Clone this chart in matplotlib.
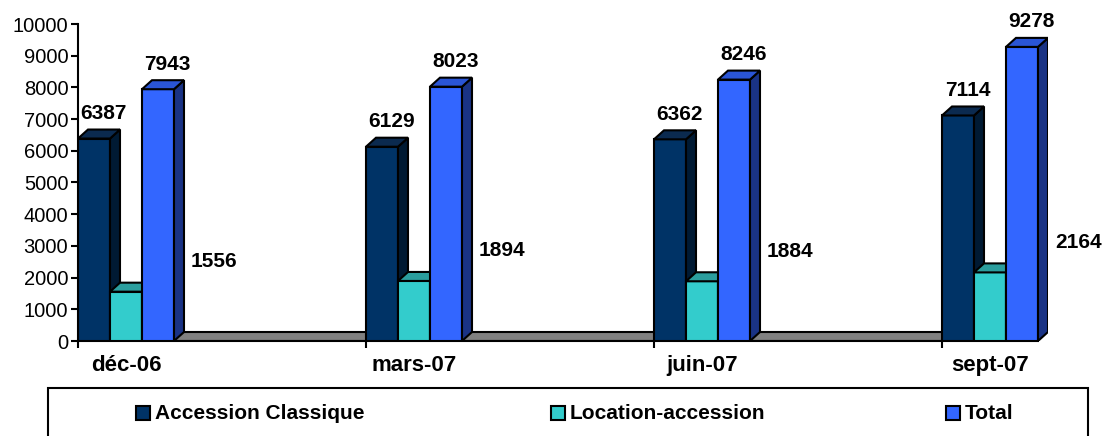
import numpy as np
import matplotlib.pyplot as plt
from matplotlib.patches import Polygon, Rectangle

categories = ["déc-06", "mars-07", "juin-07", "sept-07"]
series_names = ["Accession Classique", "Location-accession", "Total"]
accession_classique = [6387, 6129, 6362, 7114]
location_accession = [1556, 1894, 1884, 2164]
total = [7943, 8023, 8246, 9278]

front_colors = ["#003366", "#33CCCC", "#3366FF"]
top_colors = ["#0B2A4F", "#2B9E9E", "#2A55D6"]
side_colors = ["#001A33", "#1F7A7A", "#1A3385"]

plt.rcParams["font.family"] = ["Liberation Sans", "DejaVu Sans"]

W, H = 1103, 436
fig = plt.figure(figsize=(W / 100, H / 100), dpi=100)
ax = fig.add_axes([78 / W, 1 - 341 / H, (1048 - 78) / W, (341 - 24) / H])

bw = 1 / 9
x0 = -1.5 * bw
xmax = 3 + 1.5 * bw + 10 / 288
ax.set_xlim(x0, xmax)
ax.set_ylim(0, 10000)

# depth of the fake 3d in data units (10 px right, 9 px up)
dx = 10 / 288
dy = 9 / 317 * 10000

x = np.arange(len(categories))

# grey floor
floor = Polygon([(x0, 0), (2.9, 0), (2.9 + dx, dy), (x0 + dx, dy)],
                closed=True, facecolor="#808080", edgecolor="black",
                linewidth=1.5, zorder=1)
ax.add_patch(floor)

data = [accession_classique, location_accession, total]
z = 2
for k in range(len(categories)):
    for s in range(3):
        xc = x[k] + (s - 1) * bw
        v = data[s][k]
        xl, xr = xc - bw / 2, xc + bw / 2
        ax.bar(xc, v, width=bw, color=front_colors[s], edgecolor="black",
               linewidth=1.5, zorder=z)
        side = Polygon([(xr, 0), (xr + dx, dy), (xr + dx, v + dy), (xr, v)],
                       closed=True, facecolor=side_colors[s],
                       edgecolor="black", linewidth=1.5, zorder=z)
        top = Polygon([(xl, v), (xr, v), (xr + dx, v + dy), (xl + dx, v + dy)],
                      closed=True, facecolor=top_colors[s],
                      edgecolor="black", linewidth=1.5, zorder=z)
        ax.add_patch(side)
        ax.add_patch(top)
        z += 1

# value labels
for k in range(len(categories)):
    for s in (0, 2):
        xc = x[k] + (s - 1) * bw
        v = data[s][k]
        ax.annotate(str(v), (xc, v), xytext=(7, 18), textcoords="offset points",
                    ha="center", va="center", fontsize=15, fontweight="bold",
                    annotation_clip=False, zorder=50)
    xs = x[k] + 1.5 * bw + dx
    v = location_accession[k]
    ax.annotate(str(v), (xs, v + 950), xytext=(5, 0), textcoords="offset points",
                ha="left", va="center", fontsize=15, fontweight="bold",
                annotation_clip=False, zorder=50)

for sp in ("top", "right"):
    ax.spines[sp].set_visible(False)
ax.spines["bottom"].set_visible(False)
ax.spines["left"].set_linewidth(1.5)
ax.spines["left"].set_zorder(40)

ax.set_yticks(np.arange(0, 10001, 1000))
ax.tick_params(axis="y", direction="out", length=5, width=1.5, labelsize=14.5,
               pad=2)
ax.set_xticks(x)
ax.set_xticklabels(categories, fontsize=16, fontweight="bold")
ax.set_xticks(x - 1.5 * bw, minor=True)
ax.tick_params(axis="x", which="major", length=0, pad=10)
ax.tick_params(axis="x", which="minor", direction="out", length=5, width=1.5)
ax.plot([x0, 3 + 1.5 * bw], [0, 0], color="black", linewidth=1.5, zorder=1.5,
        clip_on=False)

# legend box
box = Rectangle((48 / W, -0.1), (1088 - 48) / W, 1 - 388 / H + 0.1,
                transform=fig.transFigure, facecolor="white",
                edgecolor="black", linewidth=1.5)
fig.add_artist(box)
marker_x = [136, 551, 946]
ly = 1 - 413 / H
for name, c, mx in zip(series_names, front_colors, marker_x):
    sq = Rectangle((mx / W, ly - 7 / H), 14 / W, 14 / H,
                   transform=fig.transFigure, facecolor=c,
                   edgecolor="black", linewidth=1.5)
    fig.add_artist(sq)
    fig.text((mx + 19) / W, ly, name, fontsize=15, fontweight="bold",
             va="center", ha="left")

fig.savefig("out.png", dpi=100)
